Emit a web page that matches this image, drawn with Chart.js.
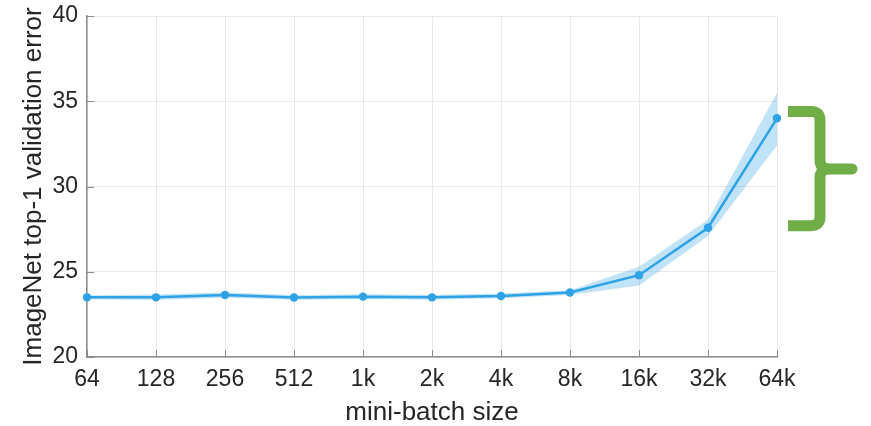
<!DOCTYPE html>
<html>
<head>
<meta charset="utf-8">
<script src="https://cdn.jsdelivr.net/npm/chart.js@4/dist/chart.umd.min.js"></script>
<style>
  html, body { margin: 0; padding: 0; background: #fff; }
  #wrap { width: 871px; height: 426px; }
</style>
</head>
<body>
<div id="wrap"><canvas id="myChart" width="871" height="426"></canvas></div>
<script>
(function () {
  "use strict";

  var batchSizes = ["64", "128", "256", "512", "1k", "2k", "4k", "8k", "16k", "32k", "64k"];
  var errorMean  = [23.5, 23.5, 23.64, 23.49, 23.54, 23.5, 23.58, 23.78, 24.8, 27.58, 34.0];
  var errorUpper = [23.62, 23.66, 23.8, 23.62, 23.68, 23.64, 23.72, 23.92, 25.3, 28.05, 35.5];
  var errorLower = [23.38, 23.34, 23.48, 23.36, 23.4, 23.36, 23.44, 23.64, 24.2, 27.1, 32.4];
  var yTicks = [20, 25, 30, 35, 40];
  // values the green bracket spans (top, middle, bottom)
  var bracketValues = [34.4, 31.03, 27.7];

  var blue = "rgb(46, 163, 230)";
  var band = "rgba(46, 163, 230, 0.3)";
  var textColor = "#262626";
  var font = "'Liberation Sans', Arial, sans-serif";

  // small inward tick marks on the left and bottom axes
  var innerTicks = {
    id: "innerTicks",
    afterDatasetsDraw: function (chart) {
      var ctx = chart.ctx, area = chart.chartArea;
      var xs = chart.scales.x, ys = chart.scales.y;
      ctx.save();
      ctx.strokeStyle = "#8c8c8c";
      ctx.lineWidth = 1;
      ctx.beginPath();
      xs.ticks.forEach(function (t, i) {
        var px = Math.round(xs.getPixelForTick(i)) + 0.5;
        ctx.moveTo(px, area.bottom);
        ctx.lineTo(px, area.bottom - 7);
      });
      ys.ticks.forEach(function (t, i) {
        var py = Math.round(ys.getPixelForTick(i)) + 0.5;
        ctx.moveTo(area.left, py);
        ctx.lineTo(area.left + 7, py);
      });
      ctx.stroke();
      ctx.restore();
    }
  };

  // green curly bracket to the right of the plot
  var bracket = {
    id: "bracket",
    afterDraw: function (chart) {
      var ctx = chart.ctx, area = chart.chartArea, ys = chart.scales.y;
      var top = ys.getPixelForValue(bracketValues[0]);
      var mid = ys.getPixelForValue(bracketValues[1]);
      var bot = ys.getPixelForValue(bracketValues[2]);
      var x0 = area.right + 11, xv = area.right + 43, xt = area.right + 75;
      var r = 9;
      ctx.save();
      ctx.strokeStyle = "#70ad47";
      ctx.lineWidth = 11;
      ctx.lineCap = "butt";
      ctx.lineJoin = "round";
      ctx.beginPath();
      ctx.moveTo(x0, top);
      ctx.lineTo(xv - r, top);
      ctx.quadraticCurveTo(xv, top, xv, top + r);
      ctx.lineTo(xv, mid - r);
      ctx.quadraticCurveTo(xv, mid, xv + r, mid);
      ctx.moveTo(xv, bot - r);
      ctx.lineTo(xv, mid + r);
      ctx.quadraticCurveTo(xv, mid, xv + r, mid);
      ctx.moveTo(x0, bot);
      ctx.lineTo(xv - r, bot);
      ctx.quadraticCurveTo(xv, bot, xv, bot - r);
      ctx.stroke();
      ctx.lineCap = "round";
      ctx.beginPath();
      ctx.moveTo(xv + r - 1, mid);
      ctx.lineTo(xt, mid);
      ctx.stroke();
      ctx.restore();
    }
  };

  var ctx = document.getElementById("myChart").getContext("2d");
  var myChart = new Chart(ctx, {
    type: "line",
    data: {
      labels: batchSizes,
      datasets: [{
        label: "upper",
        data: errorUpper,
        borderWidth: 0,
        pointRadius: 0,
        borderColor: "rgba(0,0,0,0)",
        fill: false
      }, {
        label: "lower",
        data: errorLower,
        borderWidth: 0,
        pointRadius: 0,
        borderColor: "rgba(0,0,0,0)",
        backgroundColor: band,
        fill: "-1"
      }, {
        label: "error",
        data: errorMean,
        borderColor: blue,
        backgroundColor: blue,
        borderWidth: 2.5,
        pointRadius: 4.2,
        pointBorderWidth: 0,
        fill: false
      }]
    },
    options: {
      responsive: false,
      animation: false,
      layout: { padding: { left: 0, right: 94, top: 16, bottom: 0 } },
      plugins: {
        legend: { display: false },
        tooltip: { enabled: false }
      },
      scales: {
        x: {
          offset: false,
          afterFit: function (scale) {
            scale.height = 69;
            scale.paddingLeft = 0;
            scale.paddingRight = 0;
          },
          grid: { color: "#e8e8e8", drawTicks: false },
          border: { color: "#8c8c8c", width: 1.5 },
          ticks: { color: textColor, font: { family: font, size: 23 }, padding: 9, maxRotation: 0 },
          title: { display: true, text: "mini-batch size", color: textColor,
                   font: { family: font, size: 26, lineHeight: 1 }, padding: { top: 0, bottom: 0 } }
        },
        y: {
          min: 20,
          max: 40,
          afterFit: function (scale) {
            scale.width = 87;
            scale.paddingTop = 0;
            scale.paddingBottom = 0;
          },
          afterBuildTicks: function (scale) {
            scale.ticks = yTicks.map(function (v) { return { value: v }; });
          },
          grid: { color: "#e8e8e8", drawTicks: false },
          border: { color: "#8c8c8c", width: 1.5 },
          ticks: { color: textColor, font: { family: font, size: 23 }, padding: 9 },
          title: { display: true, text: "ImageNet top-1 validation error", color: textColor,
                   font: { family: font, size: 26, lineHeight: 1 }, padding: { top: 21, bottom: 0 } }
        }
      }
    },
    plugins: [innerTicks, bracket]
  });
})();
</script>
</body>
</html>
